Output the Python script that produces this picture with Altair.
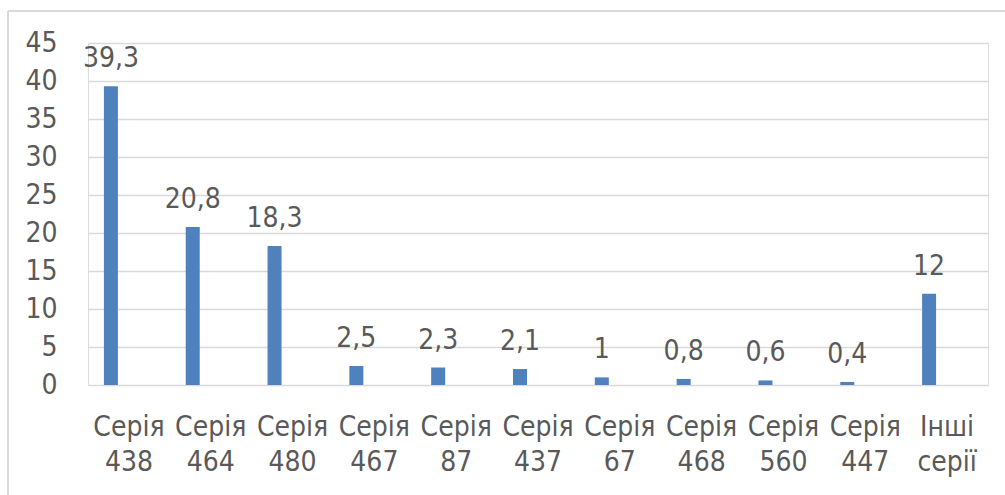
import altair as alt
import pandas as pd

categories = ["Серія 438", "Серія 464", "Серія 480", "Серія 467", "Серія 87",
              "Серія 437", "Серія 67", "Серія 468", "Серія 560", "Серія 447", "Інші серії"]
values = [39.3, 20.8, 18.3, 2.5, 2.3, 2.1, 1, 0.8, 0.6, 0.4, 12]

df = pd.DataFrame({"cat": categories, "value": values})

FONT = "DejaVu Sans Condensed, sans-serif"
FS = 28
TXT = "#595959"

x = alt.X("cat:N", sort=categories, title=None,
          scale=alt.Scale(paddingInner=0, paddingOuter=0),
          axis=alt.Axis(labelAngle=0, labelExpr="split(datum.value, ' ')",
                        labelFont=FONT, labelFontSize=FS, labelColor=TXT,
                        labelLineHeight=35, labelPadding=28, ticks=False,
                        domain=False, grid=False))
y = alt.Y("value:Q", title=None,
          scale=alt.Scale(domain=[0, 45], nice=False),
          axis=alt.Axis(values=list(range(0, 50, 5)), labelFont=FONT,
                        labelFontSize=FS, labelColor=TXT, ticks=False,
                        domain=False, labelPadding=31,
                        gridColor="#d9d9d9", gridWidth=1.5))

bars = alt.Chart(df).mark_bar(color="#4f81bd", width=14, xOffset=-18).encode(x=x, y=y)

text = alt.Chart(df).transform_calculate(
    lbl="replace(toString(datum.value), '.', ',')"
).mark_text(font=FONT, fontSize=FS, color=TXT, baseline="alphabetic",
            dy=-19, xOffset=-18).encode(x=x, y=y, text="lbl:N")

border_top = alt.Chart(df).mark_rule(color="#d9d9d9", strokeWidth=1.5).encode(
    x=alt.value(-80), x2=alt.value(930), y=alt.value(-32))
border_left = alt.Chart(df).mark_rule(color="#d9d9d9", strokeWidth=1.5).encode(
    x=alt.value(-80), y=alt.value(-32), y2=alt.value(470))

chart = alt.layer(border_top, border_left, bars, text).properties(
    width=900, height=342,
    padding={"left": 88, "top": 43, "right": 17, "bottom": 110},
    autosize=alt.AutoSizeParams(type="none"),
).configure_view(stroke=None).configure(background="white")

chart.save("out.html", embed_options={"renderer": "svg", "actions": False})
